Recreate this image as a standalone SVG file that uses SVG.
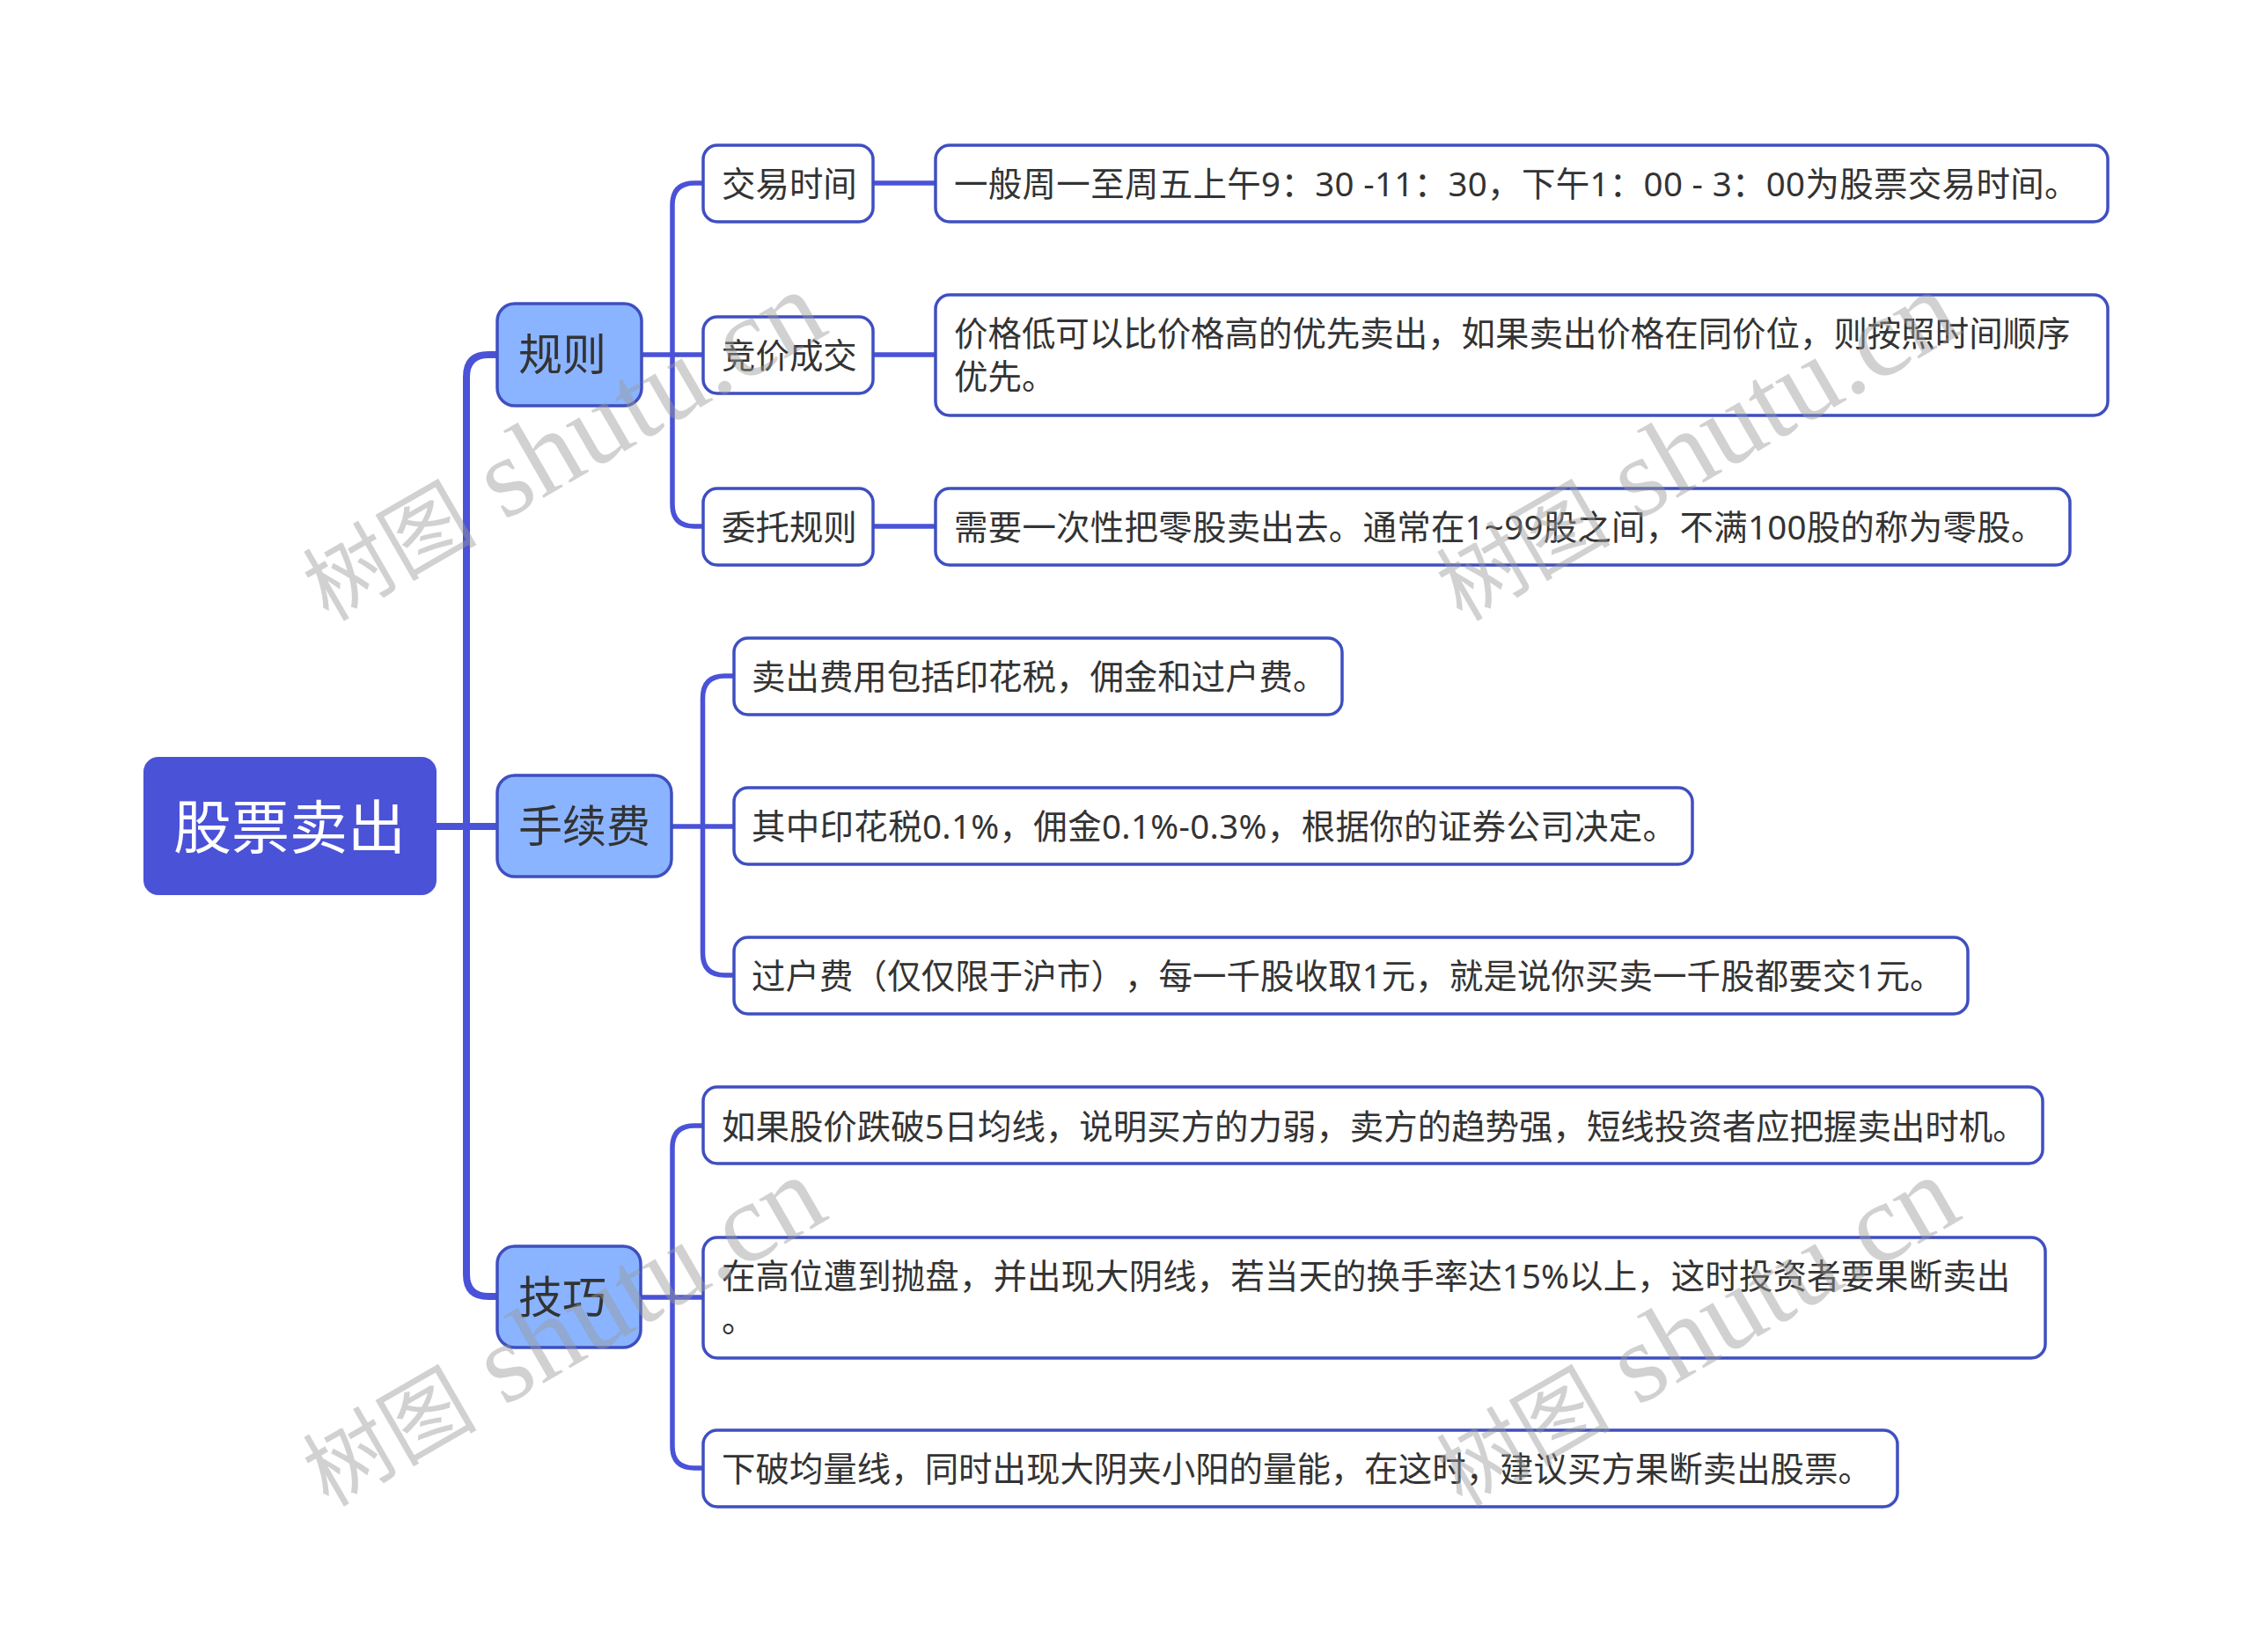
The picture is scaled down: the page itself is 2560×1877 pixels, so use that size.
<svg xmlns="http://www.w3.org/2000/svg" width="2560" height="1877" viewBox="0 0 2560 1877">
<style>
text{font-family:"Noto Sans","Noto Sans CJK SC",sans-serif;fill:#333;text-spacing-trim:space-all}
.leaf rect{fill:#fff;stroke:#3f4fc0;stroke-width:3.5}
.mid rect{fill:#8ab4ff;stroke:#3f4fc0;stroke-width:3.5}
.root rect{fill:#4a52d8;stroke:#4a52d8;stroke-width:2}
.leaf text{font-size:38.450px}
.mid text{font-size:50px}
.root text{font-size:66px;fill:#fff}
.c1{fill:none;stroke:#4a52d8;stroke-width:8}
.c2{fill:none;stroke:#4a52d8;stroke-width:5.500}
.wm{font-family:"Liberation Serif","Noto Sans CJK SC",serif;font-size:128px;fill:#999;fill-opacity:.45}
.wm .cj{font-size:99px}
</style>
<g id="connectors">
<path class="c1" d="M495 939H565"/>
<path class="c1" d="M530 939V428Q530 403 555 403H565"/>
<path class="c1" d="M530 939V1448Q530 1473 555 1473H565"/>
<path class="c2" d="M729 403H799"/>
<path class="c2" d="M764 403V233Q764 208 789 208H799"/>
<path class="c2" d="M764 403V573Q764 598 789 598H799"/>
<path class="c2" d="M992 208H1063"/>
<path class="c2" d="M992 403H1063"/>
<path class="c2" d="M992 598H1063"/>
<path class="c2" d="M763 939H834"/>
<path class="c2" d="M798.500 939V793Q798.500 768 823.500 768H834"/>
<path class="c2" d="M798.500 939V1083Q798.500 1108 823.500 1108H834"/>
<path class="c2" d="M728 1474H799"/>
<path class="c2" d="M764 1474V1304Q764 1279 789 1279H799"/>
<path class="c2" d="M764 1474V1643Q764 1668 789 1668H799"/>
</g>
<g id="root" class="root"><rect x="164" y="861" width="331" height="155" rx="16"/><text x="197" y="964">股票卖出</text></g>
<g id="n-guize" class="mid"><rect x="565" y="345" width="164" height="116" rx="20"/><text x="589" y="421">规则</text></g>
<g id="n-shouxufei" class="mid"><rect x="565" y="881" width="198" height="115" rx="20"/><text x="589" y="957">手续费</text></g>
<g id="n-jiqiao" class="mid"><rect x="565" y="1416" width="163" height="115" rx="20"/><text x="589" y="1492">技巧</text></g>
<g id="l1" class="leaf"><rect x="799" y="165" width="193" height="87" rx="16"/><text x="820" y="223">交易时间</text></g>
<g id="l2" class="leaf"><rect x="799" y="360" width="193" height="87" rx="16"/><text x="820" y="418">竞价成交</text></g>
<g id="l3" class="leaf"><rect x="799" y="555" width="193" height="87" rx="16"/><text x="820" y="613">委托规则</text></g>
<g id="l4" class="leaf"><rect x="1063" y="165" width="1332" height="87" rx="16"/><text x="1084" y="223" letter-spacing=".35">一般周一至周五上午9：30 -11：30，下午1：00 - 3：00为股票交易时间。</text></g>
<g id="l5" class="leaf"><rect x="1063" y="335" width="1332" height="137" rx="16"/><text x="1084" y="393">价格低可以比价格高的优先卖出，如果卖出价格在同价位，则按照时间顺序</text><text x="1084" y="442">优先。</text></g>
<g id="l6" class="leaf"><rect x="1063" y="555" width="1289" height="87" rx="16"/><text x="1084" y="613" letter-spacing=".27">需要一次性把零股卖出去。通常在1~99股之间，不满100股的称为零股。</text></g>
<g id="l7" class="leaf"><rect x="834" y="725" width="691" height="87" rx="16"/><text x="854" y="783">卖出费用包括印花税，佣金和过户费。</text></g>
<g id="l8" class="leaf"><rect x="834" y="895" width="1089" height="87" rx="16"/><text x="854" y="953" letter-spacing=".35">其中印花税0.1%，佣金0.1%-0.3%，根据你的证券公司决定。</text></g>
<g id="l9" class="leaf"><rect x="834" y="1065" width="1402" height="87" rx="16"/><text x="854" y="1123" letter-spacing=".1">过户费（仅仅限于沪市），每一千股收取1元，就是说你买卖一千股都要交1元。</text></g>
<g id="l10" class="leaf"><rect x="799" y="1235" width="1522" height="87" rx="16"/><text x="820" y="1294">如果股价跌破5日均线，说明买方的力弱，卖方的趋势强，短线投资者应把握卖出时机。</text></g>
<g id="l11" class="leaf"><rect x="799" y="1406" width="1525" height="137" rx="16"/><text x="820" y="1464" letter-spacing=".12">在高位遭到抛盘，并出现大阴线，若当天的换手率达15%以上，这时投资者要果断卖出</text><text x="820" y="1513">。</text></g>
<g id="l12" class="leaf"><rect x="799" y="1625" width="1357" height="87" rx="16"/><text x="820" y="1683">下破均量线，同时出现大阴夹小阳的量能，在这时，建议买方果断卖出股票。</text></g>
<g id="watermarks">
<text class="wm" transform="translate(373 707) rotate(-30)"><tspan class="cj">树图</tspan> shutu.cn</text>
<text class="wm" transform="translate(1661 707) rotate(-30)"><tspan class="cj">树图</tspan> shutu.cn</text>
<text class="wm" transform="translate(373 1713) rotate(-30)"><tspan class="cj">树图</tspan> shutu.cn</text>
<text class="wm" transform="translate(1661 1713) rotate(-30)"><tspan class="cj">树图</tspan> shutu.cn</text>
</g>
</svg>
